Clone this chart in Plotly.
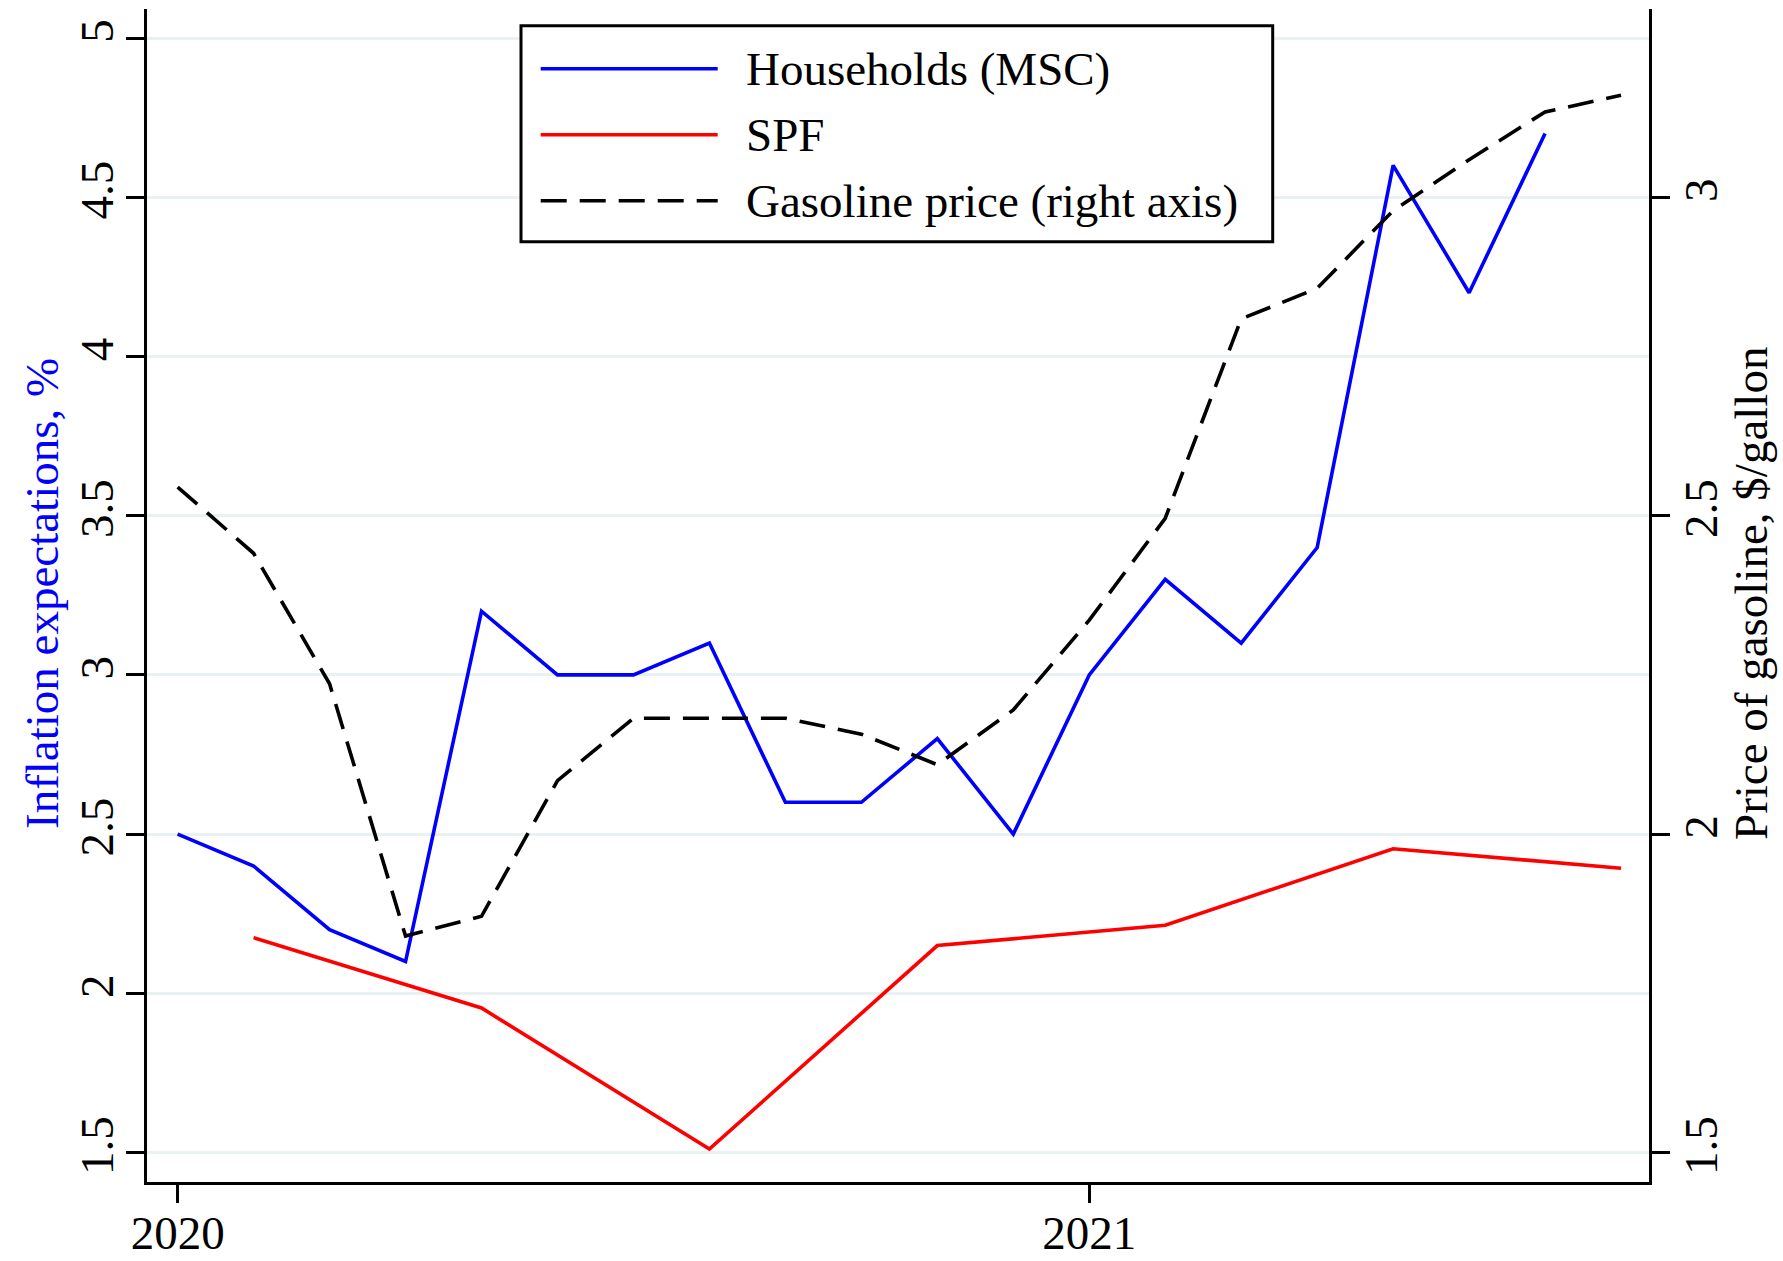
import plotly.graph_objects as go

# ---------------- data ----------------
msc_months = ["2020-01", "2020-02", "2020-03", "2020-04", "2020-05", "2020-06",
              "2020-07", "2020-08", "2020-09", "2020-10", "2020-11", "2020-12",
              "2021-01", "2021-02", "2021-03", "2021-04", "2021-05", "2021-06",
              "2021-07"]
msc_values = [2.5, 2.4, 2.2, 2.1, 3.2, 3.0, 3.0, 3.1, 2.6, 2.6, 2.8, 2.5,
              3.0, 3.3, 3.1, 3.4, 4.6, 4.2, 4.7]

spf_months = ["2020-02", "2020-05", "2020-08", "2020-11", "2021-02", "2021-05", "2021-08"]
spf_values = [2.175, 1.954, 1.511, 2.15, 2.214, 2.454, 2.393]

gas_months = ["2020-01", "2020-02", "2020-03", "2020-04", "2020-05", "2020-06",
              "2020-07", "2020-08", "2020-09", "2020-10", "2020-11", "2020-12",
              "2021-01", "2021-02", "2021-03", "2021-04", "2021-05", "2021-06",
              "2021-07", "2021-08"]
gas_values = [2.545, 2.441, 2.236, 1.84, 1.871, 2.084, 2.182, 2.182, 2.182, 2.157,
              2.109, 2.195, 2.336, 2.496, 2.809, 2.857, 2.979, 3.059, 3.134, 3.16]

x_tick_vals = [2020, 2021]
x_tick_text = ["2020", "2021"]
y_left_ticks = [1.5, 2, 2.5, 3, 3.5, 4, 4.5, 5]
y_left_text = ["1.5", "2", "2.5", "3", "3.5", "4", "4.5", "5"]
y_right_ticks = [1.5, 2, 2.5, 3]
y_right_text = ["1.5", "2", "2.5", "3"]

legend_names = ["Households (MSC)", "SPF", "Gasoline price (right axis)"]
left_title = "Inflation expectations, %"
right_title = "Price of gasoline, $/gallon"


def to_decimal_year(m):
    y, mo = m.split("-")
    return int(y) + (int(mo) - 1) / 12.0


FONT = "Liberation Serif, Times New Roman, serif"
FS = 47
BLUE = "#0000ff"
RED = "#ff0000"
DASH = "26px,13px"
LW = 3.6

W, H = 1783, 1261
ML, MR, MT, MB = 147, 134, 9, 79
PW = W - ML - MR
PH = H - MT - MB


def px_x(p):
    return (p - ML) / PW


def px_y(p):
    return (H - MB - p) / PH


fig = go.Figure()

fig.add_trace(go.Scatter(
    x=[to_decimal_year(m) for m in msc_months], y=msc_values,
    mode="lines", name=legend_names[0],
    line=dict(color=BLUE, width=LW), yaxis="y", showlegend=False))

fig.add_trace(go.Scatter(
    x=[to_decimal_year(m) for m in spf_months], y=spf_values,
    mode="lines", name=legend_names[1],
    line=dict(color=RED, width=LW), yaxis="y", showlegend=False))

fig.add_trace(go.Scatter(
    x=[to_decimal_year(m) for m in gas_months], y=gas_values,
    mode="lines", name=legend_names[2],
    line=dict(color="black", width=LW, dash=DASH), yaxis="y2", showlegend=False))

axis_common = dict(
    showline=True, linecolor="black", linewidth=3,
    ticks="outside", ticklen=18, tickwidth=3, tickcolor="black",
    zeroline=False,
    tickfont=dict(family=FONT, size=FS, color="black"),
)

fig.update_layout(
    width=W, height=H,
    margin=dict(l=ML, r=MR, t=MT, b=MB, autoexpand=False),
    plot_bgcolor="white", paper_bgcolor="white",
    font=dict(family=FONT, size=FS, color="black"),
    xaxis=dict(range=[2019.9664, 2021.614], tickvals=x_tick_vals, ticktext=x_tick_text,
               showgrid=False, automargin=False, ticklabelstandoff=-10, **axis_common),
    yaxis=dict(range=[1.4076, 5.0911], tickvals=y_left_ticks, ticktext=y_left_text,
               tickangle=-90, showgrid=True, gridcolor="#eaf1f3", gridwidth=3,
               automargin=False, ticklabelstandoff=-6, **axis_common),
    yaxis2=dict(range=[1.4538, 3.2956], tickvals=y_right_ticks, ticktext=y_right_text,
                tickangle=-90, overlaying="y", side="right", showgrid=False,
                automargin=False, ticklabelstandoff=-9, **axis_common),
)

# axis titles
plot_mid = px_y(594)
fig.add_annotation(xref="paper", yref="paper", x=px_x(42), y=plot_mid,
                   xanchor="center", yanchor="middle", textangle=-90, showarrow=False,
                   text=left_title, font=dict(family=FONT, size=FS, color=BLUE))
fig.add_annotation(xref="paper", yref="paper", x=px_x(1751), y=plot_mid,
                   xanchor="center", yanchor="middle", textangle=-90, showarrow=False,
                   text=right_title, font=dict(family=FONT, size=FS, color="black"))

# ---------------- custom legend (long line samples like the original) ----------------
box_x0, box_x1 = px_x(521), px_x(1272.7)
box_y1, box_y0 = px_y(25.7), px_y(241.7)
fig.add_shape(type="rect", xref="paper", yref="paper",
              x0=box_x0, x1=box_x1, y0=box_y0, y1=box_y1,
              line=dict(color="black", width=3), fillcolor="white", layer="above")

row_y = [px_y(68.7), px_y(134.7), px_y(200.7)]
styles = [dict(color=BLUE, width=LW), dict(color=RED, width=LW),
          dict(color="black", width=LW, dash=DASH)]
for name, yy, st in zip(legend_names, row_y, styles):
    fig.add_shape(type="line", xref="paper", yref="paper",
                  x0=px_x(540.7), x1=px_x(717.7), y0=yy, y1=yy, line=st, layer="above")
    fig.add_annotation(xref="paper", yref="paper", x=px_x(744), y=yy,
                       xanchor="left", yanchor="middle", showarrow=False,
                       text=name, font=dict(family=FONT, size=FS, color="black"))

fig.write_html("out.html", config={"displayModeBar": False},
               post_script="document.body.style.margin='0px';document.body.style.padding='0px';")
